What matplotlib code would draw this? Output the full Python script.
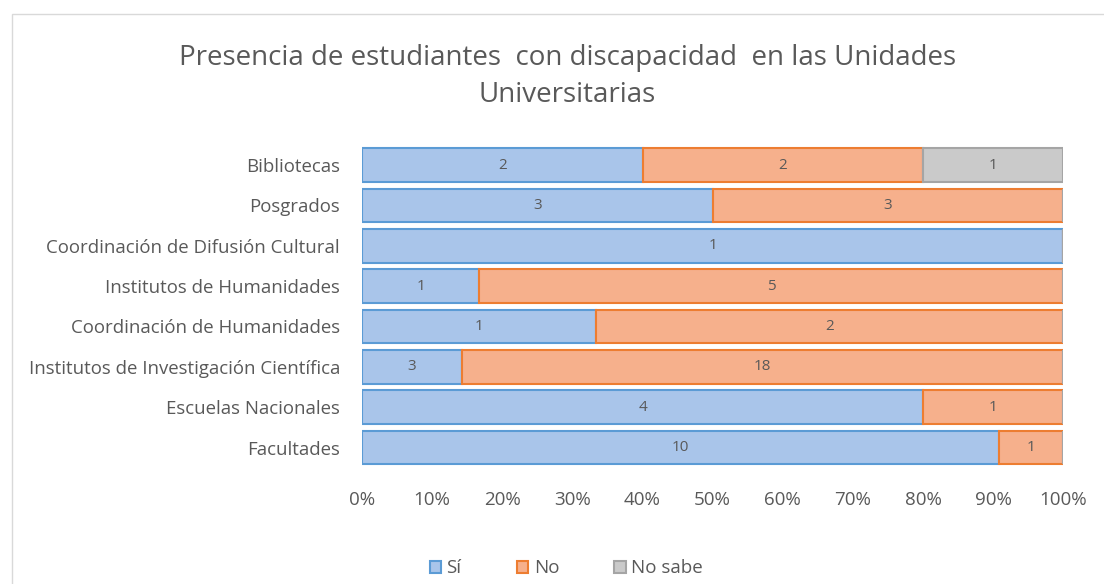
import matplotlib.pyplot as plt
import matplotlib.patches as mpatches
import numpy as np

categories = ['Bibliotecas', 'Posgrados', 'Coordinación de Difusión Cultural',
              'Institutos de Humanidades', 'Coordinación de Humanidades',
              'Institutos de Investigación Científica', 'Escuelas Nacionales',
              'Facultades']
si = [2, 3, 1, 1, 1, 3, 4, 10]
no = [2, 3, 0, 5, 2, 18, 1, 1]
no_sabe = [1, 0, 0, 0, 0, 0, 0, 0]

series = [('Sí', si, '#A9C5EA', '#5B9BD5'),
          ('No', no, '#F6B08C', '#ED7D31'),
          ('No sabe', no_sabe, '#CACACA', '#A5A5A5')]

plt.rcParams['font.family'] = ['Open Sans', 'DejaVu Sans']

fig = plt.figure(figsize=(11.04, 5.84), dpi=100)
ax = fig.add_axes([0.328, 0.199, 0.635, 0.553])

fig.patches.append(mpatches.Rectangle((12 / 1104, -0.01), 1.0, 1 - 14 / 584 + 0.01,
                                      transform=fig.transFigure, fill=False,
                                      edgecolor='#D9D9D9', linewidth=1))

totals = np.array(si) + np.array(no) + np.array(no_sabe)
y = np.arange(len(categories))
left = np.zeros(len(categories))
for name, vals, fc, ec in series:
    vals = np.array(vals)
    frac = vals / totals * 100
    ax.barh(y, frac, left=left, height=0.83, color=fc, edgecolor=ec,
            linewidth=1.5, label=name)
    for i, v in enumerate(vals):
        if v > 0:
            ax.text(left[i] + frac[i] / 2, y[i], str(v), ha='center', va='center',
                    fontsize=11, color='#595959')
    left += frac

ax.set_ylim(len(categories) - 0.5, -0.5)
ax.set_xlim(0, 100)
ax.set_yticks(y)
ax.set_yticklabels(categories, fontsize=13.4, color='#595959')
ax.set_xticks(np.arange(0, 101, 10))
ax.set_xticklabels([f'{t}%' for t in range(0, 101, 10)], fontsize=13.5, color='#595959')
ax.tick_params(length=0, pad=16)
ax.tick_params(axis='x', pad=17)
for s in ax.spines.values():
    s.set_visible(False)

fig.text(0.514, 0.869, 'Presencia de estudiantes  con discapacidad  en las Unidades\nUniversitarias',
         ha='center', va='center', fontsize=20, color='#595959', linespacing=1.43)

leg = fig.legend(loc='center', bbox_to_anchor=(0.513, 0.027), ncol=3, frameon=False,
                 fontsize=13.5, handlelength=0.6, handleheight=0.6, columnspacing=2.95,
                 handletextpad=0.3)
for t in leg.get_texts():
    t.set_color('#595959')

fig.savefig('out.png', dpi=100)
